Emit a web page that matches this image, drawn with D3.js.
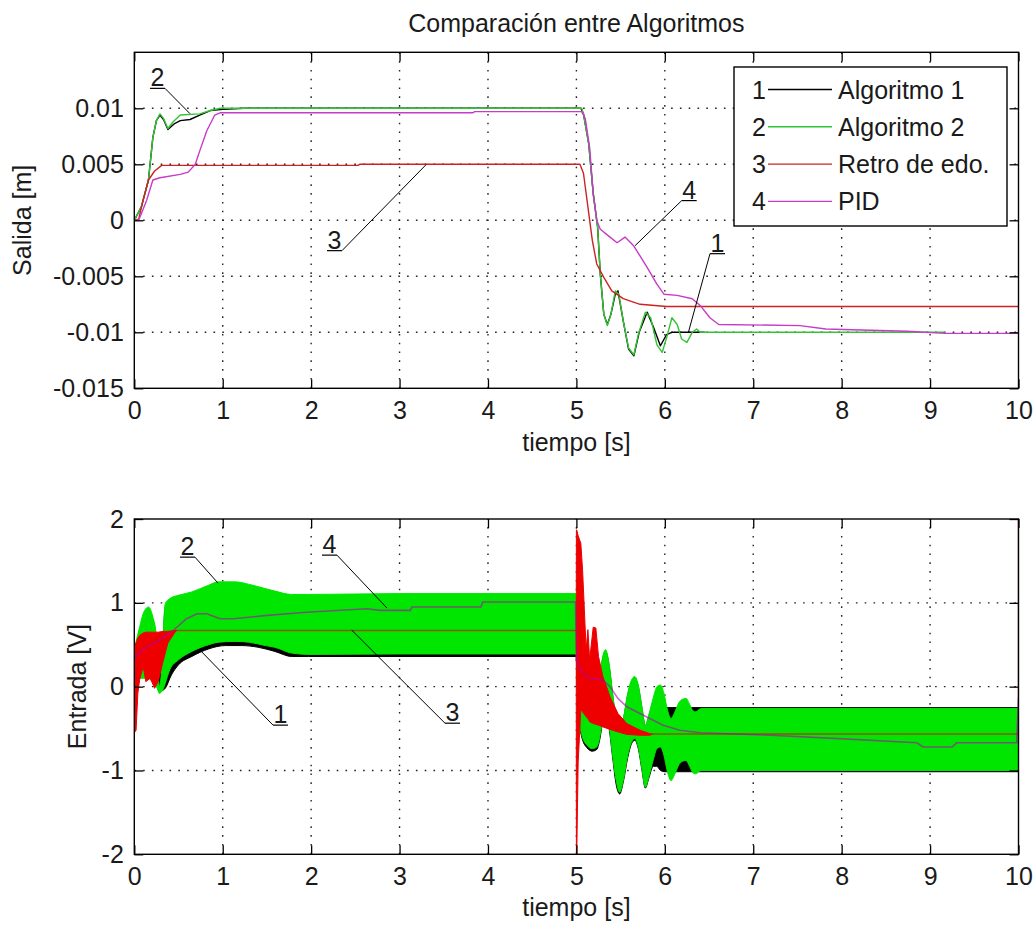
<!DOCTYPE html>
<html>
<head>
<meta charset="utf-8">
<script src="https://cdn.jsdelivr.net/npm/d3@7"></script>
<style>
  body { margin: 0; background: #fff; }
  svg text { font-family: "Liberation Sans", Arial, sans-serif; font-size: 25px; fill: #1a1a1a; }
  .grid { stroke: #222; stroke-width: 1.4; stroke-dasharray: 1.6 7.2; }
  .tick line { stroke: #000; stroke-width: 1.3; }
  .box { fill: none; stroke: #000; stroke-width: 1.4; }
</style>
</head>
<body>
<svg id="fig" width="1035" height="926"></svg>
<script>
// ---- axis ticks ----
const timeTicks = [0, 1, 2, 3, 4, 5, 6, 7, 8, 9, 10];
const timeTickLabels = ["0", "1", "2", "3", "4", "5", "6", "7", "8", "9", "10"];
const salidaTicks = [-0.015, -0.01, -0.005, 0, 0.005, 0.01];
const salidaTickLabels = ["-0.015", "-0.01", "-0.005", "0", "0.005", "0.01"];
const entradaTicks = [-2, -1, 0, 1, 2];
const entradaTickLabels = ["-2", "-1", "0", "1", "2"];

// ---- legend ----
const seriesNames = ["Algoritmo 1", "Algoritmo 2", "Retro de edo.", "PID"];
const seriesIds = ["1", "2", "3", "4"];

// ---- output (Salida) traces: [t, y] ----
const salidaAlg1 = [[0,0],[0.08,0.0012],[0.16,0.0036],[0.21,0.0074],[0.25,0.0089],[0.29,0.0094],[0.33,0.0090],[0.38,0.0081],[0.45,0.0086],[0.52,0.0089],[0.63,0.0090],[0.74,0.0094],[0.86,0.0098],[1.0,0.0099],[1.25,0.0100],[5.05,0.0100],[5.08,0.0095],[5.14,0.0068],[5.19,0.0024],[5.24,-0.0006],[5.27,-0.0048],[5.31,-0.0084],[5.35,-0.0093],[5.39,-0.0084],[5.44,-0.0066],[5.47,-0.0063],[5.53,-0.0090],[5.59,-0.0115],[5.65,-0.0121],[5.71,-0.0100],[5.80,-0.0082],[5.87,-0.0095],[5.95,-0.0112],[6.02,-0.0102],[6.08,-0.0100],[6.45,-0.0100]];
const salidaAlg2 = [[0,0],[0.08,0.0012],[0.16,0.0036],[0.21,0.0074],[0.25,0.0089],[0.29,0.0095],[0.33,0.0091],[0.38,0.0082],[0.44,0.0088],[0.52,0.0094],[0.74,0.0095],[0.86,0.0098],[0.97,0.0100],[5.06,0.0100],[5.08,0.0095],[5.14,0.0068],[5.19,0.0024],[5.24,-0.0006],[5.27,-0.0048],[5.31,-0.0084],[5.35,-0.0094],[5.39,-0.0084],[5.44,-0.0063],[5.48,-0.0066],[5.53,-0.0090],[5.59,-0.0114],[5.65,-0.0120],[5.70,-0.0102],[5.78,-0.0082],[5.84,-0.0087],[5.91,-0.0111],[5.97,-0.0118],[6.02,-0.0105],[6.08,-0.0087],[6.14,-0.0093],[6.19,-0.0106],[6.25,-0.0109],[6.31,-0.0100],[6.36,-0.0097],[6.40,-0.0100],[9.17,-0.0100]];
const salidaRetro = [[0,0],[0.05,0.0001],[0.10,0.0018],[0.16,0.0036],[0.23,0.0044],[0.31,0.0049],[2.53,0.0049],[2.55,0.0050],[5.04,0.0050],[5.08,0.0042],[5.13,0.0012],[5.18,-0.0018],[5.23,-0.0039],[5.31,-0.0051],[5.40,-0.0063],[5.53,-0.0070],[5.72,-0.0075],[6.02,-0.0077],[10,-0.0077]];
const salidaPID = [[0,0],[0.05,0],[0.14,0.0018],[0.21,0.0036],[0.29,0.0038],[0.52,0.0041],[0.61,0.0043],[0.69,0.0050],[0.74,0.0062],[0.82,0.0080],[0.91,0.0094],[0.97,0.0096],[3.83,0.0096],[3.85,0.0097],[5.06,0.0097],[5.10,0.0091],[5.15,0.0065],[5.19,0.0024],[5.23,0.0],[5.27,-0.0008],[5.38,-0.0015],[5.46,-0.0020],[5.55,-0.0015],[5.65,-0.0023],[5.80,-0.0042],[5.91,-0.0057],[5.99,-0.0066],[6.14,-0.0067],[6.31,-0.0070],[6.40,-0.0076],[6.51,-0.0087],[6.61,-0.0093],[7.53,-0.0094],[7.82,-0.0097],[8.74,-0.0099],[9.17,-0.0101],[10,-0.0101]];

// ---- input (Entrada): switching envelopes [t, upper, lower] ----
const entradaAlg1Band = [[0.00,0.40,0.25],[0.06,0.66,0.14],[0.16,0.90,0.14],[0.25,0.58,0.05],[0.28,0.18,-0.06],[0.31,0.30,-0.05],[0.35,0.95,-0.02],[0.42,1.03,0.14],[0.50,1.06,0.26],[0.65,1.10,0.36],[0.84,1.18,0.45],[1.03,1.20,0.49],[1.21,1.20,0.49],[1.40,1.16,0.47],[1.59,1.12,0.42],[1.78,1.07,0.36],[1.97,1.06,0.36],[4.995,1.06,0.36],[5.02,0.45,-0.29],[5.06,0.15,-0.60],[5.12,0.02,-0.73],[5.18,-0.02,-0.77],[5.23,0.00,-0.75],[5.27,0.15,-0.60],[5.30,0.35,-0.40],[5.33,0.42,-0.32],[5.37,0.25,-0.50],[5.41,-0.10,-0.85],[5.45,-0.42,-1.17],[5.49,-0.54,-1.28],[5.53,-0.40,-1.14],[5.58,-0.10,-0.85],[5.62,0.05,-0.69],[5.66,0.10,-0.64],[5.70,0.00,-0.74],[5.74,-0.25,-0.99],[5.78,-0.47,-1.21],[5.82,-0.35,-1.09],[5.87,-0.20,-0.95],[5.91,-0.18,-0.95],[5.95,-0.22,-1.00],[6.00,-0.25,-1.015],[10,-0.25,-1.015]];
const entradaAlg1Spikes = [[4.51,0.39,0.70],[9.93,-0.26,-0.61]];
const entradaAlg2Band = [[0.00,0.45,0.20],[0.06,0.71,0.10],[0.10,0.87,0.10],[0.16,0.95,0.10],[0.21,0.83,0.05],[0.25,0.60,0.00],[0.27,0.20,-0.05],[0.28,0.00,-0.08],[0.31,0.20,-0.06],[0.33,0.71,-0.02],[0.35,0.99,0.04],[0.40,1.05,0.20],[0.50,1.09,0.32],[0.65,1.13,0.42],[0.84,1.21,0.50],[0.95,1.25,0.53],[1.14,1.25,0.54],[1.30,1.22,0.53],[1.48,1.17,0.49],[1.59,1.14,0.47],[1.78,1.10,0.40],[1.97,1.10,0.385],[3.00,1.11,0.39],[4.995,1.11,0.39],[5.02,0.47,-0.27],[5.06,0.17,-0.57],[5.12,0.04,-0.70],[5.18,0.00,-0.74],[5.23,0.02,-0.72],[5.27,0.17,-0.57],[5.30,0.37,-0.37],[5.33,0.44,-0.30],[5.37,0.27,-0.47],[5.41,-0.08,-0.82],[5.45,-0.38,-1.12],[5.49,-0.52,-1.26],[5.53,-0.38,-1.12],[5.58,-0.08,-0.82],[5.62,0.07,-0.67],[5.66,0.12,-0.62],[5.70,0.02,-0.72],[5.74,-0.23,-0.97],[5.78,-0.46,-1.20],[5.82,-0.33,-1.07],[5.87,-0.13,-0.87],[5.91,0.00,-0.74],[5.95,0.02,-0.72],[5.99,-0.08,-0.82],[6.03,-0.28,-1.02],[6.07,-0.38,-1.12],[6.11,-0.31,-1.05],[6.16,-0.19,-0.93],[6.20,-0.15,-0.89],[6.24,-0.14,-0.88],[6.28,-0.21,-0.95],[6.32,-0.29,-1.03],[6.35,-0.30,-1.04],[6.39,-0.27,-1.01],[6.42,-0.26,-1.00],[10,-0.26,-1.00]];
const entradaRetroBandStart = [[0.00,0.50,-0.55],[0.02,0.52,-0.52],[0.04,0.58,-0.08],[0.06,0.61,0.08],[0.10,0.64,0.24],[0.13,0.65,0.06],[0.18,0.65,0.10],[0.23,0.65,-0.02],[0.27,0.65,0.06],[0.33,0.66,0.32],[0.38,0.66,0.52],[0.46,0.67,0.65],[0.48,0.67,0.67]];
const entradaRetroBandStep = [[4.998,0.67,0.67],[5.000,1.87,-2.00],[5.004,1.87,-2.00],[5.02,1.80,-0.90],[5.05,1.71,-0.28],[5.07,1.39,-0.30],[5.09,0.92,-0.33],[5.11,0.44,-0.36],[5.13,0.68,-0.38],[5.15,0.32,-0.42],[5.19,0.71,-0.44],[5.22,0.70,-0.45],[5.25,0.36,-0.46],[5.30,0.12,-0.48],[5.38,-0.12,-0.51],[5.47,-0.32,-0.54],[5.57,-0.44,-0.57],[5.72,-0.52,-0.58],[5.83,-0.56,-0.58],[5.86,-0.565,-0.565]];
const entradaRetroHold1 = [[0.46,0.67],[5.0,0.67]];
const entradaRetroHold2 = [[5.85,-0.565],[10,-0.565],[10,2.0]];
const entradaPID = [[0.0,0.30],[0.01,0.36],[0.12,0.46],[0.27,0.55],[0.44,0.67],[0.59,0.81],[0.71,0.87],[0.82,0.87],[0.97,0.81],[1.12,0.81],[1.50,0.85],[1.99,0.89],[2.63,0.93],[2.78,0.91],[3.12,0.91],[3.14,0.95],[3.92,0.95],[3.94,1.01],[4.99,1.01],[5.00,0.44],[5.02,0.24],[5.08,0.16],[5.15,0.10],[5.30,0.08],[5.38,0.00],[5.47,-0.14],[5.57,-0.24],[5.68,-0.30],[5.83,-0.38],[5.98,-0.46],[6.17,-0.52],[6.40,-0.55],[7.20,-0.58],[7.97,-0.62],[8.85,-0.67],[8.92,-0.72],[9.25,-0.72],[9.30,-0.67],[9.98,-0.67],[10,-0.13]];

// ---- numbered callouts: junction point and target point in data units ----
const salidaNotes = [
  { label: "2", at: [0.347, 0.01178], to: [0.630, 0.00952], side: -1 },
  { label: "3", at: [2.349, -0.00271], to: [3.299, 0.00496], side: -1 },
  { label: "4", at: [6.191, 0.00176], to: [5.664, -0.00226], side: 1 },
  { label: "1", at: [6.511, -0.00298], to: [6.266, -0.01002], side: 1 }
];
const entradaNotes = [
  { label: "2", at: [0.686, 1.545], to: [0.947, 1.235], side: -1 },
  { label: "4", at: [2.292, 1.569], to: [2.858, 0.937], side: -1 },
  { label: "1", at: [1.569, -0.459], to: [0.743, 0.436], side: 1 },
  { label: "3", at: [3.514, -0.436], to: [2.459, 0.674], side: 1 }
];

// ---- colours ----
const lineColors = ["#000000", "#33c433", "#cc2222", "#c83ac8"];
const bandGreen = "#00e600";
const bandRed = "#ee0000";

// ---- layout ----
const svg = d3.select("#fig");
const x = d3.scaleLinear().domain([0, 10]).range([134.3, 1018.5]);
const ySal = d3.scaleLinear().domain([-0.015, 0.015]).range([388.3, 52.3]);
const yEnt = d3.scaleLinear().domain([-2, 2]).range([854.3, 519]);

function panel(id, y, ticks, tickLabels) {
  const [yb, yt] = y.range();
  const [xl, xr] = x.range();
  svg.append("clipPath").attr("id", id)
    .append("rect").attr("x", xl).attr("y", yt).attr("width", xr - xl).attr("height", yb - yt);
  const g = svg.append("g");
  // dotted grid
  g.append("g").selectAll("line").data(timeTicks.filter(t => t > 0 && t < 10)).join("line")
    .attr("class", "grid").attr("x1", d => x(d)).attr("x2", d => x(d)).attr("y1", yb).attr("y2", yt);
  g.append("g").selectAll("line").data(ticks.filter(v => y(v) > yt + 1 && y(v) < yb - 1)).join("line")
    .attr("class", "grid").attr("y1", d => y(d)).attr("y2", d => y(d)).attr("x1", xl).attr("x2", xr);
  const plot = g.append("g").attr("clip-path", `url(#${id})`);
  const axes = g.append("g");
  const clean = s => { s.select(".domain").remove(); s.attr("font-size", null).attr("font-family", null).attr("color", "#000"); };
  axes.append("g").attr("transform", `translate(0,${yb})`)
    .call(d3.axisBottom(x).tickValues(timeTicks).tickFormat((d, i) => timeTickLabels[i]).tickSize(-9).tickPadding(13.3)).call(clean);
  axes.append("g").attr("transform", `translate(0,${yt})`)
    .call(d3.axisTop(x).tickValues(timeTicks).tickFormat(() => "").tickSize(-9)).call(clean);
  axes.append("g").attr("transform", `translate(${xl},0)`)
    .call(d3.axisLeft(y).tickValues(ticks).tickFormat((d, i) => tickLabels[i]).tickSize(-9).tickPadding(10.5)).call(clean);
  axes.append("g").attr("transform", `translate(${xr},0)`)
    .call(d3.axisRight(y).tickValues(ticks).tickFormat(() => "").tickSize(-9)).call(clean);
  axes.append("rect").attr("class", "box").attr("x", xl).attr("y", yt).attr("width", xr - xl).attr("height", yb - yt);
  return { g, plot, axes, yb, yt };
}

function notes(g, y, list) {
  list.forEach(n => {
    const jx = x(n.at[0]), jy = y(n.at[1]);
    const ux = jx + n.side * 15;
    g.append("line").attr("x1", jx).attr("y1", jy).attr("x2", ux).attr("y2", jy)
      .attr("stroke", "#000").attr("stroke-width", 1.2);
    g.append("line").attr("x1", jx).attr("y1", jy).attr("x2", x(n.to[0])).attr("y2", y(n.to[1]))
      .attr("stroke", "#000").attr("stroke-width", 1);
    g.append("text").attr("x", (jx + ux) / 2).attr("y", jy - 2).attr("text-anchor", "middle").text(n.label);
  });
}

// ---- title ----
svg.append("text").attr("x", x(5)).attr("y", 32).attr("text-anchor", "middle").text("Comparación entre Algoritmos");

// ---- top panel: Salida ----
const panelSal = panel("clipSal", ySal, salidaTicks, salidaTickLabels);
const lineSal = d3.line().x(d => x(d[0])).y(d => ySal(d[1]));
[salidaAlg1, salidaAlg2, salidaRetro, salidaPID].forEach((s, i) => {
  panelSal.plot.append("path").datum(s).attr("d", lineSal).attr("fill", "none")
    .attr("stroke", lineColors[i]).attr("stroke-width", 1.4).attr("stroke-linejoin", "round");
});
svg.append("text").attr("x", x(5)).attr("y", 451).attr("text-anchor", "middle").text("tiempo [s]");
svg.append("text").attr("transform", `translate(31,${(panelSal.yb + panelSal.yt) / 2}) rotate(-90)`)
  .attr("text-anchor", "middle").text("Salida [m]");

// legend
const lg = svg.append("g");
lg.append("rect").attr("x", 734).attr("y", 67).attr("width", 273).attr("height", 159)
  .attr("fill", "#fff").attr("stroke", "#000").attr("stroke-width", 1.4);
seriesNames.forEach((name, i) => {
  const yy = 89.5 + i * 37.3;
  lg.append("text").attr("x", 752).attr("y", yy + 9).text(seriesIds[i]);
  lg.append("line").attr("x1", 768).attr("x2", 832).attr("y1", yy).attr("y2", yy)
    .attr("stroke", lineColors[i]).attr("stroke-width", 1.4);
  lg.append("text").attr("x", 838).attr("y", yy + 9).text(name);
});
notes(svg.append("g"), ySal, salidaNotes);

// ---- bottom panel: Entrada ----
const panelEnt = panel("clipEnt", yEnt, entradaTicks, entradaTickLabels);
const band = d3.area().x(d => x(d[0])).y1(d => yEnt(d[1])).y0(d => yEnt(d[2])).curve(d3.curveMonotoneX);
const lineEnt = d3.line().x(d => x(d[0])).y(d => yEnt(d[1]));
const drawBand = (data, color, curved) => panelEnt.plot.append("path").datum(data)
  .attr("d", curved ? band : band.curve(d3.curveLinear))
  .attr("fill", color).attr("stroke", color).attr("stroke-width", 1).attr("stroke-linejoin", "round");

// Algoritmo 1
drawBand(entradaAlg1Band, "#000", true);
panelEnt.plot.append("g").selectAll("line").data(entradaAlg1Spikes).join("line")
  .attr("x1", d => x(d[0])).attr("x2", d => x(d[0])).attr("y1", d => yEnt(d[1])).attr("y2", d => yEnt(d[2]))
  .attr("stroke", "#000").attr("stroke-width", 1.4);
// Algoritmo 2
band.curve(d3.curveMonotoneX);
drawBand(entradaAlg2Band, bandGreen, true);
// Retro de edo.
band.curve(d3.curveLinear);
drawBand(entradaRetroBandStart, bandRed, false);
drawBand(entradaRetroBandStep, bandRed, false);
[entradaRetroHold1, entradaRetroHold2].forEach(s => {
  panelEnt.plot.append("path").datum(s).attr("d", lineEnt).attr("fill", "none")
    .attr("stroke", "#e00000").attr("stroke-opacity", 0.6).attr("stroke-width", 1.6);
});
// PID
panelEnt.plot.append("path").datum(entradaPID).attr("d", lineEnt).attr("fill", "none")
  .attr("stroke", "#b000b0").attr("stroke-opacity", 0.6).attr("stroke-width", 1.6);

panelEnt.axes.raise();
svg.append("text").attr("x", x(5)).attr("y", 916).attr("text-anchor", "middle").text("tiempo [s]");
svg.append("text").attr("transform", `translate(86,${(panelEnt.yb + panelEnt.yt) / 2}) rotate(-90)`)
  .attr("text-anchor", "middle").text("Entrada [V]");
notes(svg.append("g"), yEnt, entradaNotes);
</script>
</body>
</html>
